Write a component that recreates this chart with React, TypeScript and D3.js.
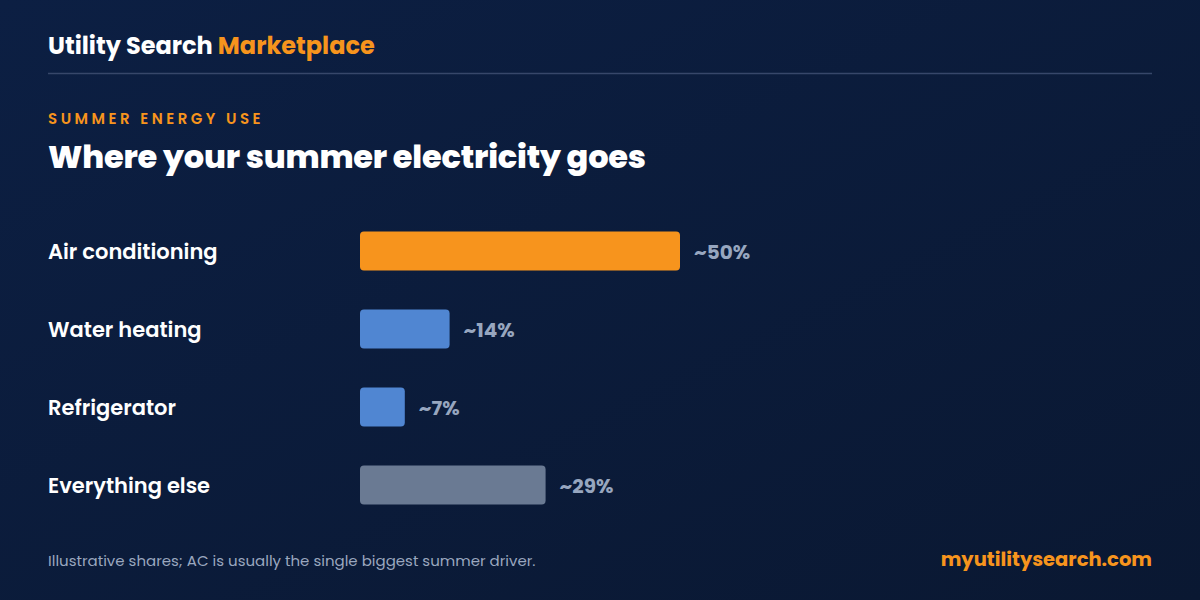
import React, { useEffect } from "react";
import * as d3 from "d3";

const categories = ["Air conditioning", "Water heating", "Refrigerator", "Everything else"];
const shares = [50, 14, 7, 29];
const valueLabels = ["~50%", "~14%", "~7%", "~29%"];
const barColors = ["#f7941d", "#5086d2", "#5086d2", "#6a7a93"];

const W = 1200;
const H = 600;
const FONT = "Poppins, Inter, 'Open Sans', sans-serif";

export default function App() {
  useEffect(() => {
    document.body.style.margin = "0";
  }, []);

  const x = d3.scaleLinear().domain([0, 50]).range([360, 680]);
  const y = d3.scaleBand().domain(categories).range([212, 524]).paddingInner(0.5).paddingOuter(0.25);

  return (
    <svg width={W} height={H} style={{ display: "block", position: "absolute", left: 0, top: 0 }} fontFamily={FONT}>
      <defs>
        <linearGradient id="bg" x1="0" y1="0" x2="1" y2="1">
          <stop offset="0%" stopColor="#0c1f43" />
          <stop offset="100%" stopColor="#0a1832" />
        </linearGradient>
      </defs>
      <rect x={0} y={0} width={W} height={H} fill="url(#bg)" />
      <text x={48} y={53.5} fontSize={24} fontWeight={700} fill="#ffffff">
        Utility Search <tspan fill="#f7941d">Marketplace</tspan>
      </text>
      <line x1={48} x2={1152} y1={73.5} y2={73.5} stroke="#37476a" strokeWidth={1.5} />
      <text x={48} y={123.5} fontSize={15} fontWeight={600} fill="#f7941d" letterSpacing={3.5}>
        SUMMER ENERGY USE
      </text>
      <text x={48} y={167.5} fontSize={32} fontWeight={800} fill="#ffffff" letterSpacing={-0.2}>
        Where your summer electricity goes
      </text>
      {categories.map((c, i) => {
        const yy = y(c)!;
        const bw = y.bandwidth();
        return (
          <g key={c}>
            <text x={48} y={yy + bw / 2 + 1} dy="0.35em" fontSize={21} fontWeight={600} fill="#ffffff">
              {c}
            </text>
            <rect x={x(0)} y={yy} width={x(shares[i]) - x(0)} height={bw} rx={4} fill={barColors[i]} />
            <text x={x(shares[i]) + 14} y={yy + bw / 2 + 1} dy="0.35em" fontSize={20} fontWeight={700} fill="#97a6bf">
              {valueLabels[i]}
            </text>
          </g>
        );
      })}
      <text x={48} y={566} fontSize={15} fill="#9aa7bf">
        Illustrative shares; AC is usually the single biggest summer driver.
      </text>
      <text x={1152} y={566} fontSize={19.5} fontWeight={700} fill="#f7941d" textAnchor="end">
        myutilitysearch.com
      </text>
    </svg>
  );
}
